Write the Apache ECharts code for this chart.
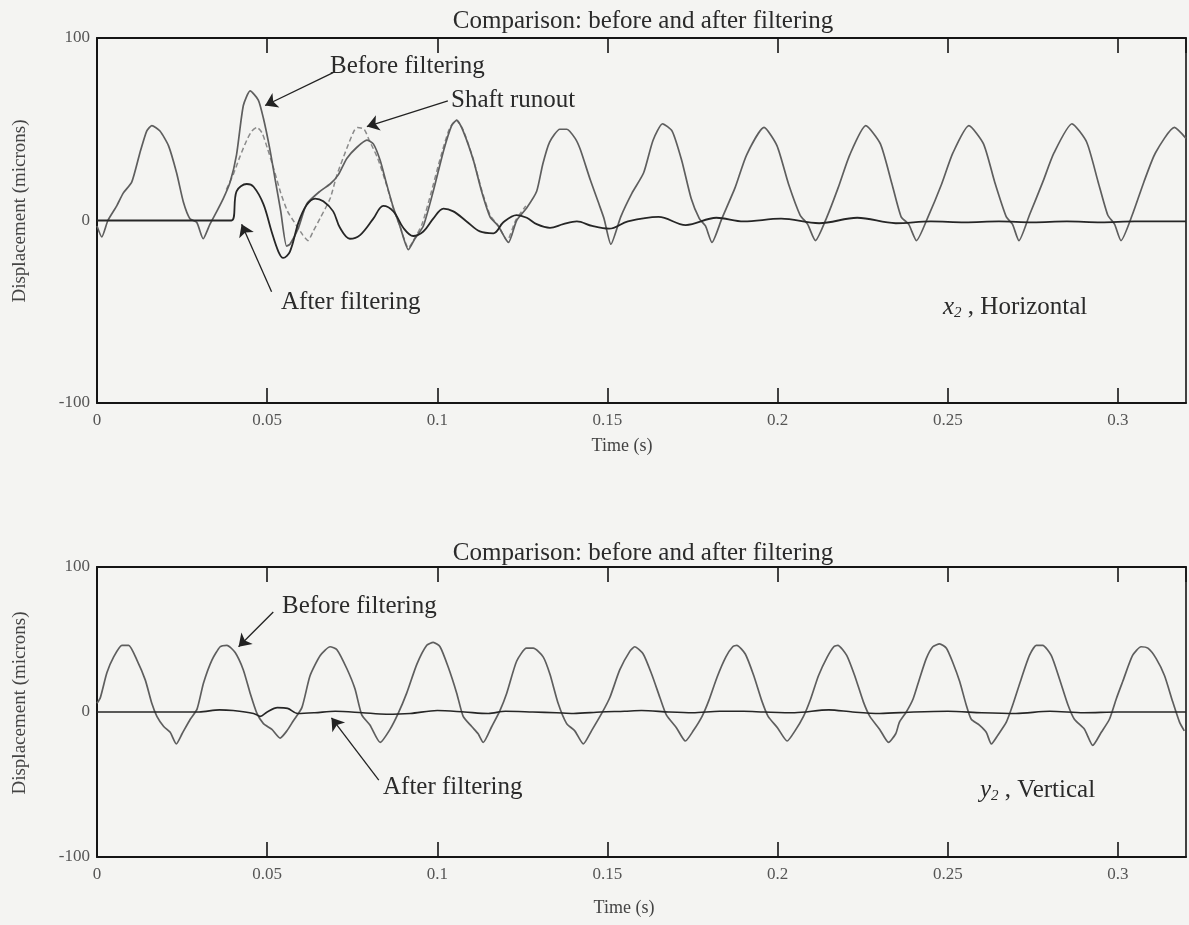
<!DOCTYPE html>
<html><head><meta charset="utf-8">
<script src="https://cdn.jsdelivr.net/npm/echarts@6/dist/echarts.min.js"></script>
<style>html,body{margin:0;padding:0;background:#f4f4f2}#c{width:1189px;height:925px}</style>
</head><body><div id="c"></div>
<script>
// ---------- DATA (time in s, displacement in microns) ----------
const xTicks = [0, 0.05, 0.1, 0.15, 0.2, 0.25, 0.3];
const yTicks = [-100, 0, 100];

// Top: x2, Horizontal
const xBefore = [[0.000,-3],[0.0014,-9],[0.0032,0],[0.0058,8],[0.0077,15],[0.0102,21],[0.0126,37],[0.0146,49],[0.0161,52],[0.0185,49],[0.021,41],[0.0234,26],[0.0254,10],[0.0273,1],[0.0293,-1],[0.0312,-10],[0.0332,-2],[0.0352,5],[0.0371,12],[0.0391,21],[0.041,36],[0.043,63],[0.045,71],[0.0474,66],[0.0489,56],[0.0508,39],[0.0523,23],[0.054,5],[0.0557,-14],[0.0567,-13],[0.0592,-4],[0.0616,9],[0.0655,16],[0.0685,20],[0.0709,25],[0.0734,34],[0.0763,40],[0.0793,44],[0.0812,42],[0.0832,33],[0.0851,20],[0.0871,7],[0.089,-3],[0.0915,-16],[0.0934,-10],[0.0959,-3],[0.0988,16],[0.1018,38],[0.1042,52],[0.1057,55],[0.1076,49],[0.1106,33],[0.113,16],[0.1155,2],[0.1179,-3],[0.1209,-12],[0.1233,0],[0.1263,7],[0.1292,16],[0.131,31],[0.133,43],[0.136,50],[0.138,50],[0.1405,45],[0.142,39],[0.145,22],[0.1475,9],[0.149,1],[0.151,-13],[0.1539,2],[0.1572,15],[0.1606,26],[0.1634,44],[0.1662,53],[0.169,49],[0.1718,33],[0.1746,12],[0.177,1],[0.1788,-3],[0.1807,-12],[0.1836,1],[0.1875,18],[0.1909,36],[0.196,51],[0.1998,41],[0.2032,20],[0.2066,3],[0.2088,-2],[0.2111,-11],[0.2145,2],[0.2178,18],[0.2212,36],[0.2259,52],[0.2302,42],[0.2336,20],[0.2363,2],[0.2385,-2],[0.2408,-11],[0.2442,2],[0.2482,20],[0.2515,37],[0.2562,52],[0.2605,42],[0.2638,21],[0.2672,2],[0.269,-2],[0.2709,-11],[0.274,3],[0.2779,21],[0.2812,37],[0.2865,53],[0.2908,43],[0.2942,21],[0.297,3],[0.299,-2],[0.3009,-11],[0.3042,3],[0.3076,21],[0.311,37],[0.3166,51],[0.32,45]];
const xRunout = [[0.038,17],[0.040,25],[0.042,35],[0.044,44],[0.0455,49],[0.047,51],[0.0485,48],[0.050,40],[0.052,28],[0.054,15],[0.056,5],[0.058,-1],[0.0605,-8],[0.062,-11],[0.0635,-6],[0.0655,1],[0.0685,12],[0.0705,25],[0.0735,40],[0.0755,49],[0.0765,51],[0.0785,50],[0.080,44],[0.0825,34],[0.085,20],[0.087,7],[0.089,-3],[0.0915,-15],[0.093,-11],[0.0955,-2],[0.098,14],[0.101,35],[0.1035,50],[0.1055,55],[0.1075,50],[0.1105,34],[0.113,17],[0.1155,3],[0.118,-3],[0.1205,-11],[0.123,0],[0.126,8]];
const xAfter = [[0,0],[0.0395,0],[0.041,16],[0.044,20],[0.046,18.5],[0.0489,9],[0.0513,-6],[0.0533,-17],[0.0547,-20.5],[0.0567,-17],[0.0592,-1],[0.0616,8.5],[0.0641,12],[0.0665,10.5],[0.0694,5],[0.0714,-4],[0.0743,-10],[0.0773,-8],[0.0812,1],[0.0841,8],[0.0871,5],[0.09,-4],[0.0929,-8.5],[0.0959,-6],[0.0988,1],[0.1018,6.5],[0.1047,5],[0.1086,-0.5],[0.1125,-6],[0.1165,-7],[0.1194,-1],[0.1233,3],[0.1263,1.5],[0.1292,-2],[0.1331,-4],[0.137,-2],[0.141,-0.5],[0.1455,-3],[0.1505,-4.5],[0.156,-0.5],[0.165,2],[0.173,-2.5],[0.182,1.5],[0.19,-0.5],[0.201,1],[0.2122,-1.5],[0.2234,1.5],[0.2347,-1.5],[0.245,-0.5],[0.255,-1],[0.265,-0.5],[0.275,-1],[0.285,-0.5],[0.295,-1],[0.305,-0.5],[0.32,-0.5]];

// Bottom: y2, Vertical
const yBefore = [[0,6],[0.001,10],[0.0029,27],[0.0049,38],[0.0073,46],[0.0093,46],[0.0117,36],[0.0142,22],[0.0161,6],[0.0176,-3],[0.0196,-10],[0.0215,-14],[0.0233,-22],[0.025,-15],[0.0274,-5],[0.0294,2],[0.0313,20],[0.0338,36],[0.0362,45],[0.0382,46],[0.0406,41],[0.043,29],[0.045,13],[0.047,-1],[0.0489,-8],[0.0514,-12],[0.0538,-18],[0.0558,-13],[0.0577,-6],[0.0602,3],[0.0626,25],[0.0656,39],[0.0685,45],[0.0705,43],[0.0734,30],[0.0758,16],[0.0778,-2],[0.0802,-9],[0.0832,-21],[0.0861,-12],[0.0885,-1],[0.091,13],[0.094,33],[0.0969,46],[0.0988,48],[0.1008,45],[0.1032,31],[0.1057,13],[0.1076,-3],[0.1101,-10],[0.112,-15],[0.1135,-21],[0.116,-10],[0.1184,1],[0.1204,13],[0.1233,35],[0.1262,44],[0.1282,44],[0.1311,38],[0.1331,26],[0.1355,6],[0.138,-8],[0.1404,-13],[0.1429,-22],[0.1453,-13],[0.1483,-1],[0.1507,10],[0.1536,29],[0.1566,42],[0.158,45],[0.1605,40],[0.163,26],[0.1654,10],[0.1673,-2],[0.1703,-11],[0.1729,-20],[0.1752,-13],[0.1778,-3],[0.1798,8],[0.1822,24],[0.1848,38],[0.1868,45],[0.188,46],[0.1905,40],[0.193,25],[0.1953,8],[0.1972,-3],[0.2,-11],[0.2028,-20],[0.2051,-13],[0.2076,-3],[0.2097,9],[0.212,25],[0.2146,38],[0.2165,45],[0.2177,46],[0.2203,39],[0.2228,24],[0.2252,7],[0.2271,-3],[0.23,-12],[0.2326,-21],[0.2347,-15],[0.2358,-7],[0.2378,0],[0.2398,9],[0.2417,23],[0.2437,37],[0.2456,45],[0.2476,47],[0.2496,44],[0.2515,34],[0.2535,21],[0.2554,5],[0.2569,-5],[0.2593,-9],[0.2613,-14],[0.2628,-22],[0.2647,-16],[0.2672,-7],[0.2691,5],[0.2716,23],[0.274,39],[0.276,46],[0.2779,46],[0.2804,39],[0.2828,23],[0.2853,5],[0.2872,-5],[0.2902,-12],[0.2926,-23],[0.2951,-14],[0.2975,-5],[0.2995,9],[0.3014,21],[0.3043,39],[0.3068,45],[0.3088,44],[0.3112,37],[0.3137,25],[0.3161,7],[0.3181,-7],[0.3195,-13]];
const yAfter = [[0,0],[0.03,0],[0.036,1.5],[0.04,1],[0.046,-1],[0.048,-3],[0.05,0],[0.053,3],[0.056,2.5],[0.059,-1],[0.064,-0.5],[0.07,0.5],[0.078,-0.5],[0.085,-1.5],[0.092,-1],[0.1,1],[0.108,0],[0.115,-1],[0.12,0.5],[0.128,0],[0.135,-0.5],[0.14,-1],[0.148,0],[0.155,0.5],[0.16,1],[0.168,0],[0.175,-0.5],[0.183,0.5],[0.19,0.5],[0.196,0],[0.205,-0.5],[0.215,1.5],[0.222,0],[0.23,-1],[0.24,0],[0.25,0.5],[0.26,-0.5],[0.27,-1],[0.28,0.5],[0.29,-0.5],[0.3,0],[0.32,0]];

// Annotation arrows: [from, to] in data coords
const topArrows = [[[0.0694,81],[0.0494,63]],[[0.1031,65.5],[0.0793,51.5]],[[0.0513,-39],[0.0425,-2]]];
const botArrows = [[[0.0518,69],[0.0416,45]],[[0.0828,-47],[0.0689,-4]]];

// ---------- CHART ----------
const FONT = '"Liberation Serif", "Times New Roman", serif';
const X_MIN = 0, X_MAX = 0.32;
const chart = echarts.init(document.getElementById('c'));

function xAx(g, pos) {
  return {
    gridIndex: g, type: 'value', position: pos, min: X_MIN, max: X_MAX, interval: 0.05,
    axisLine: { show: true, onZero: false, lineStyle: { color: '#151515', width: 2 } },
    axisTick: { show: true, inside: true, length: 15, lineStyle: { color: '#151515', width: 1.6 } },
    axisLabel: { show: pos === 'bottom', showMaxLabel: false, color: '#555', fontFamily: FONT, fontSize: 17, margin: 9,
      formatter: v => String(+(+v).toFixed(2)) },
    splitLine: { show: false }
  };
}
function yAx(g, pos) {
  return {
    gridIndex: g, type: 'value', position: pos, min: -100, max: 100, interval: 100,
    axisLine: { show: true, onZero: false, lineStyle: { color: '#151515', width: pos === 'left' ? 2 : 1.6 } },
    axisTick: { show: false },
    axisLabel: { show: pos === 'left', color: '#555', fontFamily: FONT, fontSize: 17, margin: 7 },
    splitLine: { show: false }
  };
}
function arrows(list) {
  return {
    silent: true, animation: false, symbol: ['none', 'arrow'], symbolSize: 12,
    label: { show: false }, emphasis: { disabled: true },
    lineStyle: { color: '#222', width: 1.3, type: 'solid' },
    data: list.map(a => [{ coord: a[0] }, { coord: a[1] }])
  };
}
function line(xi, yi, data, color, width, type, z, smooth) {
  return { type: 'line', xAxisIndex: xi, yAxisIndex: yi, data, showSymbol: false, symbol: 'none',
    smooth: smooth || false, lineStyle: { color, width, type }, z, silent: true, animation: false };
}

const txt = (text, x, y, size, extra) => Object.assign({
  type: 'text', x, y, silent: true,
  style: Object.assign({ text, fontFamily: FONT, fontSize: size, fill: '#2a2a2a',
    align: 'left', verticalAlign: 'middle', textAlign: 'left', textVerticalAlign: 'middle' }, (extra && extra.style) || {})
}, extra && extra.rotation !== undefined ? { rotation: extra.rotation } : {});

const center = { style: { align: 'center', textAlign: 'center' } };
const subRich = {
  i: { fontStyle: 'italic', fontFamily: FONT, fontSize: 25, fill: '#2a2a2a' },
  s: { fontStyle: 'italic', fontFamily: FONT, fontSize: 15, fill: '#2a2a2a', padding: [12, 0, 0, 0] },
  n: { fontFamily: FONT, fontSize: 25, fill: '#2a2a2a' }
};

chart.setOption({
  backgroundColor: '#f4f4f2',
  animation: false,
  grid: [
    { left: 97, top: 38, width: 1089, height: 365 },
    { left: 97, top: 567, width: 1089, height: 290 }
  ],
  xAxis: [xAx(0, 'bottom'), xAx(0, 'top'), xAx(1, 'bottom'), xAx(1, 'top')],
  yAxis: [yAx(0, 'left'), yAx(0, 'right'), yAx(1, 'left'), yAx(1, 'right')],
  series: [
    line(0, 0, xRunout, '#8a8a8a', 1.5, [5, 3], 2, 0.2),
    Object.assign(line(0, 0, xBefore, '#5e5e5e', 1.7, 'solid', 3, 0.2), { markLine: arrows(topArrows) }),
    line(0, 0, xAfter, '#262626', 1.8, 'solid', 4, 0.35),
    Object.assign(line(2, 2, yBefore, '#5e5e5e', 1.7, 'solid', 3, 0.2), { markLine: arrows(botArrows) }),
    line(2, 2, yAfter, '#262626', 1.6, 'solid', 4, 0.3)
  ],
  graphic: [
    txt('Comparison: before and after filtering', 643, 21, 25, center),
    txt('Comparison: before and after filtering', 643, 553, 25, center),
    txt('Displacement (microns)', 20, 211, 19, { rotation: Math.PI / 2, style: { align: 'center', textAlign: 'center', fill: '#444' } }),
    txt('Displacement (microns)', 20, 703, 19, { rotation: Math.PI / 2, style: { align: 'center', textAlign: 'center', fill: '#444' } }),
    txt('Time (s)', 622, 446, 18, { style: { align: 'center', textAlign: 'center', fill: '#444' } }),
    txt('Time (s)', 624, 908, 18, { style: { align: 'center', textAlign: 'center', fill: '#444' } }),
    txt('Before filtering', 330, 66, 25),
    txt('Shaft runout', 451, 100, 25),
    txt('After filtering', 281, 302, 25),
    txt('{i|x}{s|2}{n| , Horizontal}', 943, 307, 25, { style: { rich: subRich } }),
    txt('Before filtering', 282, 606, 25),
    txt('After filtering', 383, 787, 25),
    txt('{i|y}{s|2}{n| , Vertical}', 980, 790, 25, { style: { rich: subRich } })
  ]
});
</script>
</body></html>
